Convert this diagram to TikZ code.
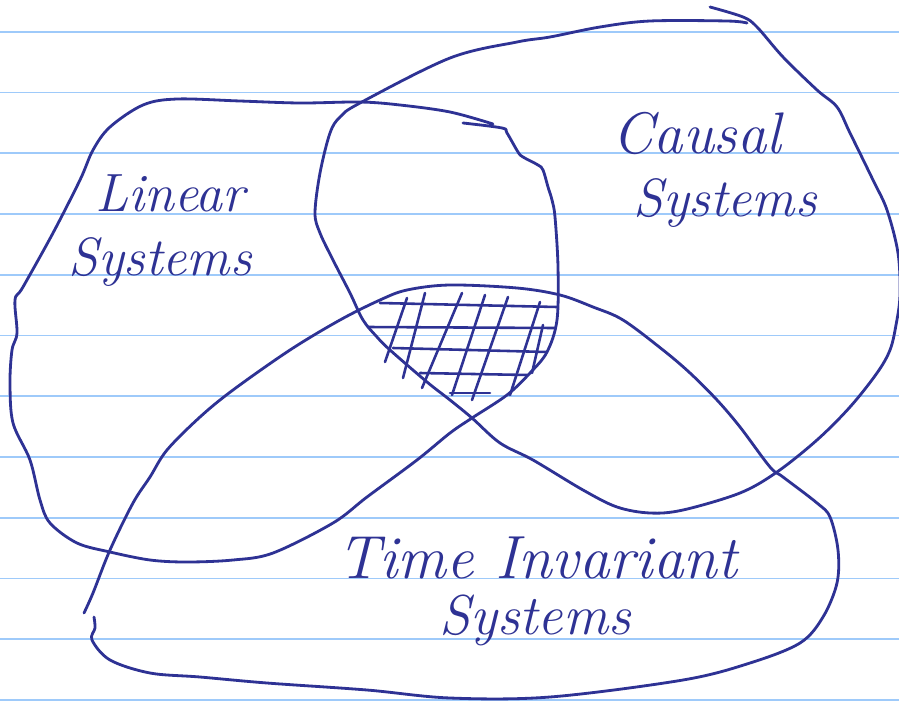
\documentclass[tikz,border=0pt]{standalone}
\usetikzlibrary{calc}
\definecolor{pen}{RGB}{46,50,148}
\definecolor{ruling}{RGB}{158,202,250}
\tikzset{
  stroke/.style={draw=pen,line width=2.4pt,line cap=round,line join=round},
  hatch/.style={stroke,line width=2.2pt},
  hand/.style={text=pen,font=\fontsize{46}{50}\selectfont\itshape,inner sep=0pt},
  ruleline/.style={draw=ruling,line width=1.6pt},
}

\begin{document}
\begin{tikzpicture}[x=0.03cm,y=-0.03cm]
  \fill[white] (0,0) rectangle (899,700);
  \useasboundingbox (0,0) rectangle (899,700);
  % ruled paper
  \foreach \k in {0,...,11}
    \draw[ruleline] (0,{31.7+60.75*\k}) -- (899,{31.7+60.75*\k});
  % linear systems
  \draw[stroke] plot[smooth,tension=0.55] coordinates {
    (493,124) (450,112) (400,105) (360,102) (300,103) (240,101) (177,99)
    (143,105) (110,127) (93,150) (80,180) (53,233) (23,287) (15,300)
    (17,333) (12,350) (10,383) (13,423) (30,460) (40,500) (50,523) (77,543)
    (110,552) (150,560) (187,562) (233,560) (273,553) (333,523) (367,497)
    (417,460) (450,433) (472,418) (507,395) (530,373) (547,352) (557,320)
    (558,267) (555,217) (552,200) (548,187) (543,170) (538,165) (523,157)
    (518,152) (507,133) (502,128) (463,123)};
  % causal systems
  \draw[stroke] plot[smooth,tension=0.55] coordinates {
    (710,7) (743,17) (757,27) (783,57) (817,90) (837,107) (850,133)
    (873,180) (887,210) (898,253) (900,295) (896,325) (890,350) (877,373)
    (850,407) (817,440) (777,472) (740,493) (683,510) (650,513) (617,507)
    (583,490) (533,460) (500,443) (472,418) (450,400) (427,382) (390,350)
    (377,337) (363,320) (350,293) (333,260) (320,233) (315,213) (320,173)
    (330,133) (340,117) (360,103) (450,58) (517,42) (550,37) (600,27)
    (650,21) (727,21) (747,23)};
  % time invariant systems
  \draw[stroke] plot[smooth,tension=0.55] coordinates {
    (84,613) (93,593) (110,550) (133,503) (150,477) (167,450) (200,417)
    (233,390) (290,350) (340,320) (380,300) (407,290) (450,285) (517,288)
    (560,295) (593,307) (623,320) (663,350) (690,373) (717,400) (740,427)
    (770,467) (783,477) (817,503) (830,517) (838,550) (837,583) (823,617)
    (800,643) (750,663) (683,680) (550,697) (450,698) (367,690) (267,683)
    (200,677) (150,673) (110,660) (92,640) (95,628) (94,617)};
  % hatching of the common part
  \foreach \xa/\ya/\xb/\yb in {380/303/557/307,368/327/555/328,393/348/547/352,
      420/373/527/375,450/393/490/393}
    \draw[hatch] (\xa,\ya) -- (\xb,\yb);
  \foreach \xa/\ya/\xb/\yb in {407/298/385/362,425/293/403/378,462/293/422/388,
      485/295/452/395,508/297/472/400,540/302/510/395,543/325/532/373}
    \draw[hatch] (\xa,\ya) -- (\xb,\yb);
  % labels
  \node[hand] (linear) at (170,193) {Linear};
  \node[hand] (linsys) at (160,262) {Systems};
  \node[hand,font=\fontsize{50}{54}\selectfont\itshape] (causal) at (697,133) {Causal};
  \node[hand] (caussys) at (725,203) {Systems};
  \node[hand,font=\fontsize{52}{56}\selectfont\itshape] (timeinv) at (537,558) {Time Invariant};
  \node[hand,font=\fontsize{48}{52}\selectfont\itshape] (tisys) at (535,620) {Systems};
\end{tikzpicture}
\end{document}
